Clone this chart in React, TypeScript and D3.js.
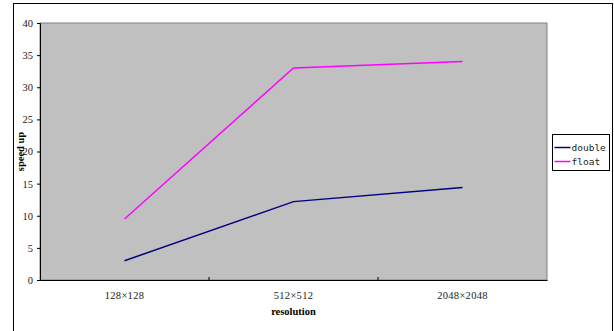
import React, { useEffect, useRef } from "react";
import * as d3 from "d3";

const categories = ["128×128", "512×512", "2048×2048"];
const doubleValues = [3.0, 12.2, 14.4];
const floatValues = [9.5, 33.0, 34.0];
const yTicks = [0, 5, 10, 15, 20, 25, 30, 35, 40];
const seriesNames = ["double", "float"];

const App = () => {
  const ref = useRef<SVGSVGElement>(null);

  useEffect(() => {
    const svg = d3.select(ref.current);
    svg.selectAll("*").remove();

    const width = 614;
    const height = 331;
    const margin = { top: 23, right: 67, bottom: 51, left: 40 };
    const font = "'Liberation Serif', 'DejaVu Serif', serif";

    // outer chart frame
    svg
      .append("rect")
      .attr("x", 13.5)
      .attr("y", 3.5)
      .attr("width", 599)
      .attr("height", 340)
      .attr("fill", "white")
      .attr("stroke", "black")
      .attr("stroke-width", 1);

    const xScale = d3
      .scaleBand()
      .domain(categories)
      .range([margin.left, width - margin.right]);

    const yScale = d3
      .scaleLinear()
      .domain([0, 40])
      .range([height - margin.bottom, margin.top]);

    // plot area
    svg
      .append("rect")
      .attr("x", margin.left)
      .attr("y", margin.top)
      .attr("width", width - margin.right - margin.left)
      .attr("height", height - margin.bottom - margin.top)
      .attr("fill", "#c0c0c0")
      .attr("stroke", "#808080")
      .attr("stroke-width", 1);

    // y axis
    const yAxis = svg
      .append("g")
      .attr("transform", `translate(${margin.left},0)`)
      .call(d3.axisLeft(yScale).tickValues(yTicks).tickSize(3).tickPadding(4));
    yAxis.select(".domain").attr("stroke", "black");
    yAxis
      .selectAll("text")
      .attr("font-family", font)
      .attr("font-size", 10.5)
      .attr("fill", "#222");

    // x axis
    const xAxis = svg
      .append("g")
      .attr("transform", `translate(0,${height - margin.bottom})`)
      .call(d3.axisBottom(xScale).tickSize(0).tickPadding(12));
    xAxis.select(".domain").attr("stroke", "black");
    xAxis
      .selectAll("text")
      .attr("font-family", font)
      .attr("font-size", 10.5)
      .attr("letter-spacing", 0.3)
      .attr("fill", "#222");

    // x ticks between categories, drawn inward
    const boundaries = categories.slice(1).map(c => xScale(c) as number);
    svg
      .append("g")
      .selectAll("line")
      .data(boundaries)
      .enter()
      .append("line")
      .attr("x1", d => d)
      .attr("x2", d => d)
      .attr("y1", height - margin.bottom)
      .attr("y2", height - margin.bottom - 3)
      .attr("stroke", "black");

    // axis titles
    svg
      .append("text")
      .attr("x", (xScale("512×512") as number) + xScale.bandwidth() / 2)
      .attr("y", 315)
      .attr("text-anchor", "middle")
      .attr("font-family", font)
      .attr("font-size", 10.5)
      .attr("font-weight", "bold")
      .text("resolution");

    svg
      .append("text")
      .attr("transform", `translate(24,${yScale(20)}) rotate(-90)`)
      .attr("text-anchor", "middle")
      .attr("font-family", font)
      .attr("font-size", 10.5)
      .attr("font-weight", "bold")
      .text("speed up");

    const lineGen = d3
      .line<number>()
      .x((_, i) => (xScale(categories[i]) as number) + xScale.bandwidth() / 2)
      .y(d => yScale(d));

    const series = [
      { name: seriesNames[0], values: doubleValues, color: "#000080" },
      { name: seriesNames[1], values: floatValues, color: "#ff00ff" },
    ];

    series.forEach(s => {
      svg
        .append("path")
        .datum(s.values)
        .attr("fill", "none")
        .attr("stroke", s.color)
        .attr("stroke-width", 1.5)
        .attr("d", lineGen);
    });

    // legend
    const legend = svg.append("g").attr("transform", "translate(552.5,134.5)");
    legend
      .append("rect")
      .attr("width", 57)
      .attr("height", 36)
      .attr("fill", "white")
      .attr("stroke", "black");
    series.forEach((s, i) => {
      const y = 13 + i * 14;
      legend
        .append("line")
        .attr("x1", 2)
        .attr("x2", 18)
        .attr("y1", y)
        .attr("y2", y)
        .attr("stroke", s.color)
        .attr("stroke-width", 1.5);
      legend
        .append("text")
        .attr("x", 19)
        .attr("y", y + 3.5)
        .attr("font-family", "'DejaVu Sans Mono', monospace")
        .attr("font-size", 9.5)
        .attr("fill", "#222")
        .text(s.name);
    });
  }, []);

  return (
    <svg
      ref={ref}
      width={614}
      height={331}
      style={{ position: "absolute", left: 0, top: 0 }}
    />
  );
};

export default App;
